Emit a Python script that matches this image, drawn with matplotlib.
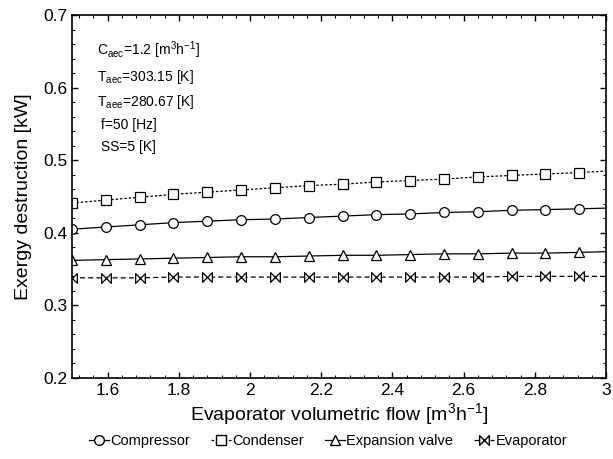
import numpy as np
import matplotlib
matplotlib.use("Agg")
import matplotlib.pyplot as plt
from matplotlib.path import Path
from matplotlib.lines import Line2D
from matplotlib.ticker import MultipleLocator

plt.rcParams['font.family'] = ['Liberation Sans', 'DejaVu Sans']
plt.rcParams['mathtext.default'] = 'regular'

# Données
flow = [1.5, 1.595, 1.69, 1.785, 1.88, 1.975, 2.07, 2.165, 2.26, 2.355,
        2.45, 2.545, 2.64, 2.735, 2.83, 2.925, 3.0]
compressor = [0.405, 0.408, 0.411, 0.414, 0.416, 0.418, 0.419, 0.421, 0.423,
              0.425, 0.426, 0.428, 0.429, 0.431, 0.432, 0.433, 0.434]
condenser = [0.441, 0.445, 0.449, 0.453, 0.456, 0.459, 0.462, 0.465, 0.467,
             0.470, 0.472, 0.474, 0.477, 0.479, 0.481, 0.483, 0.485]
expansion = [0.362, 0.363, 0.364, 0.365, 0.366, 0.367, 0.367, 0.368, 0.369,
             0.369, 0.370, 0.371, 0.371, 0.372, 0.372, 0.373, 0.374]
evaporator = [0.338, 0.338, 0.338, 0.339, 0.339, 0.339, 0.339, 0.339, 0.339,
              0.339, 0.339, 0.339, 0.339, 0.340, 0.340, 0.340, 0.340]

labels = ["Compressor", "Condenser", "Expansion valve", "Evaporator"]
notes = [r"C$_{aec}$=1.2 [m$^3$h$^{-1}$]", r"T$_{aec}$=303.15 [K]",
         r"T$_{aee}$=280.67 [K]", " f=50 [Hz]", " SS=5 [K]"]

# Marqueur "noeud papillon"
bowtie = Path([(-1, 1), (1, -1), (1, 1), (-1, -1), (-1, 1)],
              [Path.MOVETO, Path.LINETO, Path.LINETO, Path.LINETO, Path.CLOSEPOLY])

fig = plt.figure(figsize=(6.13, 4.59), dpi=100)
ax = fig.add_axes([72/613, 1-378/459, 534/613, 363/459])

mk = dict(markevery=slice(0, 16), markersize=7, markerfacecolor='white',
          markeredgecolor='black', markeredgewidth=0.9, color='black', lw=0.9)
ax.plot(flow, compressor, marker='o', ls='-', **mk)
ax.plot(flow, condenser, marker='s', ls=(0, (2, 1.5)), **mk)
ax.plot(flow, expansion, marker='^', ls='-', **mk)
ax.plot(flow, evaporator, marker=bowtie, ls=(0, (4, 2.5)), **mk)

ax.set_xlim(1.5, 3)
ax.set_ylim(0.2, 0.7)
ax.xaxis.set_minor_locator(MultipleLocator(0.04))
ax.yaxis.set_minor_locator(MultipleLocator(0.02))
ax.set_xticks(np.arange(1.6, 3.01, 0.2))
ax.set_xticklabels(["1.6", "1.8", "2", "2.2", "2.4", "2.6", "2.8", "3"])
ax.set_yticks(np.arange(0.2, 0.71, 0.1))
ax.set_yticklabels(["0.2", "0.3", "0.4", "0.5", "0.6", "0.7"])
ax.tick_params(which='both', direction='in', top=True, right=True, labelsize=12.5)
ax.tick_params(which='major', length=4, width=1)
ax.tick_params(which='minor', length=2, width=0.8)
for s in ax.spines.values():
    s.set_linewidth(1.2)

ax.set_xlabel(r"Evaporator volumetric flow [m$^3$h$^{-1}$]", fontsize=14, labelpad=2)
ax.set_ylabel("Exergy destruction [kW]", fontsize=14, labelpad=8)

ys = [0.904, 0.829, 0.760, 0.697, 0.636]
for t, y in zip(notes, ys):
    ax.text(0.047, y, t, transform=ax.transAxes, fontsize=10, va='center')

handles = [
    Line2D([], [], color='black', lw=0.9, marker='o', markersize=7, markerfacecolor='white'),
    Line2D([], [], color='black', lw=0.9, ls=(0, (2, 1.5)), marker='s', markersize=7, markerfacecolor='white'),
    Line2D([], [], color='black', lw=0.9, marker='^', markersize=7, markerfacecolor='white'),
    Line2D([], [], color='black', lw=0.9, ls=(0, (4, 2.5)), marker=bowtie, markersize=7, markerfacecolor='white'),
]
fig.legend(handles, labels, loc='center', bbox_to_anchor=(0.535, 1-441/459), ncol=4,
           frameon=False, fontsize=10.5, handlelength=1.4, handletextpad=0.1,
           columnspacing=1.4)

fig.savefig("out.png", dpi=100)
